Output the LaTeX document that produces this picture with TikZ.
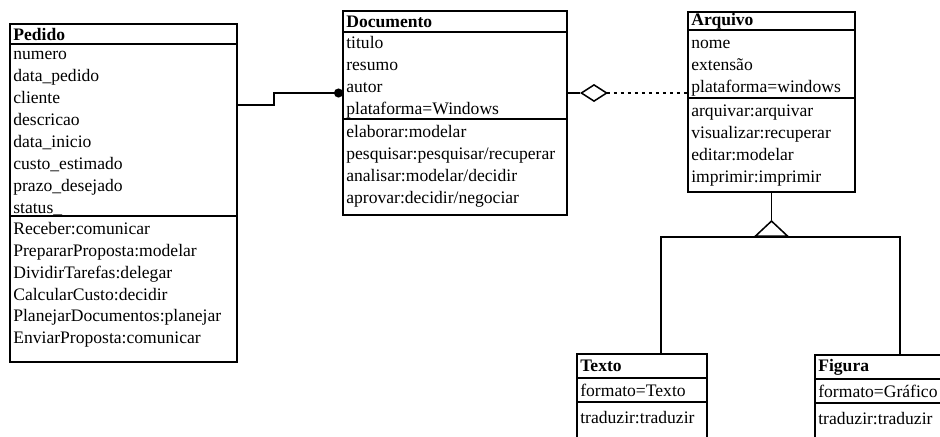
\documentclass[tikz,border=0pt]{standalone}
\usepackage{fontspec}
\setmainfont{Liberation Serif}
\usetikzlibrary{arrows.meta,positioning,calc}
\tikzset{
  box/.style={
    rectangle, draw=black, line width=1.3pt, outer sep=0pt,
    inner xsep=0.1cm, inner ysep=0pt, align=left,
    font=\fontsize{15}{18.7}\selectfont
  },
  head/.style={box, text width=#1, font=\fontsize{15}{18.7}\selectfont\bfseries},
  attr/.style={box, text width=#1},
  lead/.style={execute at begin node={\rule{0pt}{#1}}},
  tail/.style={execute at end node={\rule[-#1]{0pt}{#1}}},
  line/.style={draw=black, line width=1.3pt}
}

\begin{document}
\begin{tikzpicture}[x=0.03cm, y=-0.03cm,
    assoc/.style={line, -{Circle[length=2.7mm]}},
    aggr/.style={line, dashed, {Diamond[open, length=8.4mm, width=5.4mm]}-},
    gen/.style={line, -{Triangle[open, length=5.1mm, width=10.8mm]}}
]
  \useasboundingbox (0,0) rectangle (940,436);
  \fill[white] (0,0) rectangle (940,436);
  \clip (0,0) rectangle (940,436);

  % Pedido
  \node[head=6.61cm, minimum height=0.6cm, anchor=north west] (pedido) at (10,24) {Pedido};
  \node[attr=6.61cm, lead=13.5pt, tail=2.5pt, minimum height=5.16cm, below=0pt of pedido] (pedidoA)
    {numero\\data\_pedido\\cliente\\descricao\\data\_inicio\\custo\_estimado\\prazo\_desejado\\status\_};
  \node[attr=6.61cm, lead=15pt, tail=15pt, minimum height=4.38cm, below=0pt of pedidoA] (pedidoO)
    {Receber:comunicar\\PrepararProposta:modelar\\DividirTarefas:delegar\\CalcularCusto:decidir\\PlanejarDocumentos:planejar\\EnviarProposta:comunicar};

  % Documento
  \node[head=6.52cm, minimum height=0.63cm, anchor=north west] (doc) at (343,11) {Documento};
  \node[attr=6.52cm, lead=14pt, tail=3pt, minimum height=2.61cm, below=0pt of doc] (docA)
    {titulo\\resumo\\autor\\plataforma=Windows};
  \node[attr=6.52cm, lead=15pt, tail=9pt, minimum height=2.88cm, below=0pt of docA] (docO)
    {elaborar:modelar\\pesquisar:pesquisar/recuperar\\analisar:modelar/decidir\\aprovar:decidir/negociar};

  % Arquivo
  \node[head=4.81cm, minimum height=0.54cm, anchor=north west] (arq) at (688,12) {Arquivo};
  \node[attr=4.81cm, lead=15.5pt, tail=4.5pt, minimum height=2.04cm, below=0pt of arq] (arqA)
    {nome\\extensão\\plataforma=windows};
  \node[attr=4.81cm, lead=15.5pt, tail=8pt, minimum height=2.82cm, below=0pt of arqA] (arqO)
    {arquivar:arquivar\\visualizar:recuperar\\editar:modelar\\imprimir:imprimir};

  % Texto / Figura
  \node[head=3.7cm, minimum height=0.72cm, anchor=north west] (texto) at (577,354) {Texto};
  \node[attr=3.7cm, lead=15.5pt, tail=4.5pt, minimum height=0.72cm, below=0pt of texto] (textoA) {formato=Texto};
  \node[attr=3.7cm, lead=15pt, tail=30pt, minimum height=1.8cm, below=0pt of textoA] (textoO) {traduzir:traduzir};
  \node[head=4.3cm, minimum height=0.72cm, anchor=north west] (figura) at (815,355) {Figura};
  \node[attr=4.3cm, lead=15.5pt, tail=4.5pt, minimum height=0.72cm, below=0pt of figura] (figuraA) {formato=Gráfico};
  \node[attr=4.3cm, lead=15pt, tail=30pt, minimum height=1.8cm, below=0pt of figuraA] (figuraO) {traduzir:traduzir};

  % Connectors
  \draw[assoc] (pedidoA.east |- 0,105) -- ++(37,0) |- (docA.west |- 0,93);
  \draw[line] (docA.east |- 0,93) -- ++(13,0) coordinate (dia);
  \draw[aggr] (dia) -- (arqA.west |- 0,93);

  \draw[line] (arqO.south) -- ++(0,28) coordinate (apex);
  \coordinate (bus) at ($(apex)+(0,17)$);
  \draw[gen] (bus) -- (apex);
  \draw[line] (texto.north -| 661,0) |- (bus) -| (figura.north -| 900,0);
\end{tikzpicture}
\end{document}
